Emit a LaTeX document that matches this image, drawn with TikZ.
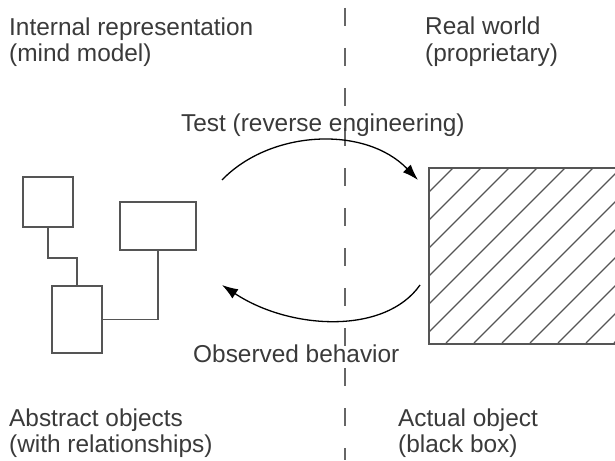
\documentclass[tikz,border=0pt]{standalone}
\usepackage{fontspec}
\setmainfont{Liberation Sans}
\usepackage{xcolor}
\usetikzlibrary{arrows.meta, positioning}
\definecolor{txtgray}{HTML}{3A3A3A}
\definecolor{boxgray}{HTML}{555555}
\definecolor{dashgray}{HTML}{666666}

\tikzset{
	objbox/.style={draw=boxgray, line width=1.6pt, inner sep=0pt},
	label text/.style={text=txtgray, align=left, anchor=base west, inner sep=0pt},
	flow/.style={->, >={Latex[length=16pt, width=11pt]}, line width=1.3pt, black}
}

\begin{document}
\begin{tikzpicture}[x=1pt, y=-1pt, font=\fontsize{24.4}{26}\selectfont]
	\clip (0, 0) rectangle (615, 460);
	\fill[white] (0, 0) rectangle (615, 460);

	% base anchor sits on the last line
	\node[label text] (inner) at (9, 62) {Internal representation\\(mind model)};
	\node[label text] (real) at (425, 61) {Real world\\(proprietary)};
	\node[label text] (abstract) at (9, 452) {Abstract objects\\(with relationships)};
	\node[label text] (actual) at (398, 452) {Actual object\\(black box)};

	\node[objbox, minimum width=50pt, minimum height=50pt] (A) at (48, 202) {};
	\node[objbox, minimum width=76pt, minimum height=48pt] (B) at (158, 226) {};
	\node[objbox, minimum width=50pt, minimum height=67pt] (C) at (77, 319.5) {};

	\draw[boxgray, line width=1.6pt] (A.south) -- ++(0, 30) -| (C.north);
	\draw[boxgray, line width=1.6pt] (B.south) |- (C.east);

	\node[objbox, minimum width=200pt, minimum height=176pt, anchor=north west] (box) at (428, 167) {};
	\begin{scope}
		\clip (box.north west) rectangle (box.south east);
		\foreach \c in {621, 649, ..., 960}
			\draw[boxgray, line width=1.2pt] (\c - 343, 343) -- (\c - 167, 167);
	\end{scope}

	\draw[dashgray, line width=1.8pt, dash pattern=on 18pt off 22pt] (345, 8) -- (345, 460);

	\coordinate (tstart) at (222, 180);
	\coordinate (tend) at (418, 180);
	\coordinate (ostart) at (420, 285);
	\coordinate (oend) at (222, 285);

	\draw[flow] (tstart) .. controls (270, 130) and (365, 125) .. (tend);
	\draw[flow] (ostart) .. controls (385, 335) and (290, 330) .. (oend);

	\node[label text] (test) at (181, 131) {Test (reverse engineering)};
	\node[label text] (observed) at (193, 362) {Observed behavior};
\end{tikzpicture}
\end{document}
